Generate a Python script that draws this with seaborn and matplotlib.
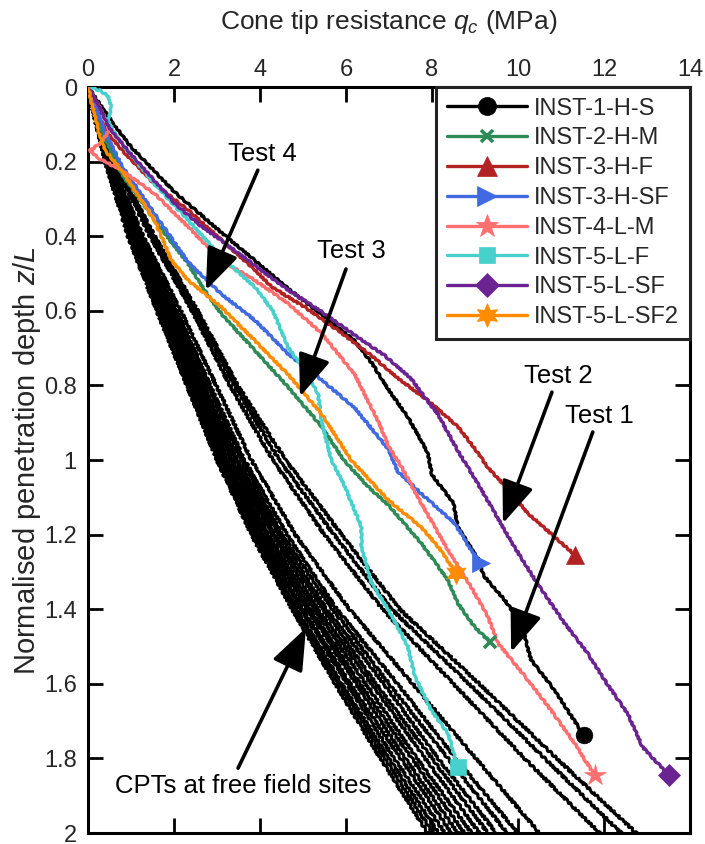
import numpy as np
import pandas as pd
import matplotlib
matplotlib.use("Agg")
import matplotlib.pyplot as plt
from matplotlib.lines import Line2D
from matplotlib.ticker import FormatStrFormatter
import seaborn as sns

sns.set_theme(style="white")
plt.rcParams['font.family'] = ['Liberation Sans', 'DejaVu Sans']
plt.rcParams['mathtext.fontset'] = 'custom'
plt.rcParams['mathtext.rm'] = 'Liberation Sans'
plt.rcParams['mathtext.it'] = 'Liberation Sans:italic'

# ---- free-field CPT profiles (normalised depth grid, qc in MPa) ----
cpt_depth = [0, 0.1, 0.2, 0.4, 0.6, 0.8, 1.0, 1.2, 1.4, 1.6, 1.8, 2.0]
cpt_qc = [
    [0, 0.20, 0.40, 0.93, 1.60, 2.30, 3.00, 3.80, 4.75, 5.75, 6.80, 7.90],
    [0, 0.19, 0.41, 0.95, 1.63, 2.31, 3.05, 3.84, 4.80, 5.84, 6.90, 8.02],
    [0, 0.21, 0.42, 0.96, 1.66, 2.37, 3.08, 3.90, 4.86, 5.90, 7.00, 8.15],
    [0, 0.20, 0.43, 0.99, 1.68, 2.40, 3.14, 3.95, 4.96, 6.03, 7.12, 8.30],
    [0, 0.22, 0.42, 1.00, 1.72, 2.42, 3.16, 4.02, 5.00, 6.10, 7.27, 8.45],
    [0, 0.21, 0.44, 1.02, 1.75, 2.46, 3.22, 4.06, 5.10, 6.24, 7.38, 8.60],
    [0, 0.22, 0.45, 1.05, 1.77, 2.49, 3.25, 4.14, 5.17, 6.33, 7.53, 8.75],
    [0, 0.23, 0.45, 1.07, 1.83, 2.55, 3.33, 4.19, 5.27, 6.46, 7.65, 8.92],
    [0, 0.22, 0.47, 1.09, 1.86, 2.59, 3.37, 4.29, 5.35, 6.60, 7.84, 9.10],
    [0, 0.24, 0.47, 1.12, 1.91, 2.66, 3.45, 4.34, 5.47, 6.70, 8.00, 9.30],
    [0, 0.24, 0.49, 1.15, 1.95, 2.70, 3.49, 4.44, 5.55, 6.88, 8.14, 9.50],
    [0, 0.25, 0.50, 1.19, 2.01, 2.79, 3.58, 4.51, 5.69, 7.00, 8.37, 9.75],
    [0, 0.26, 0.52, 1.22, 2.07, 2.84, 3.64, 4.63, 5.79, 7.20, 8.55, 10.00],
    [0, 0.27, 0.54, 1.28, 2.16, 2.98, 3.80, 4.82, 6.08, 7.55, 9.02, 10.50],
    [0, 0.29, 0.59, 1.44, 2.42, 3.30, 4.30, 5.50, 6.85, 8.50, 10.15, 11.90],
    [0, 0.30, 0.61, 1.50, 2.49, 3.41, 4.45, 5.72, 7.06, 8.86, 10.62, 12.40],
    [0, 0.31, 0.63, 1.55, 2.55, 3.48, 4.60, 5.90, 7.25, 9.10, 10.90, 12.75],
]

# ---- instrumented pile tests ----
inst1_qc = [0, 0.3, 0.6, 1.0, 1.5, 2.0, 2.6, 3.1, 3.88, 4.65, 5.43, 6.2, 6.6, 6.98, 7.44, 7.9, 8.0,
            8.5, 8.6, 9.07, 9.2, 9.69, 10.08, 10.3, 10.85, 11.3, 11.53]
inst1_z = [0, 0.05, 0.1, 0.16, 0.22, 0.28, 0.34, 0.39, 0.465, 0.54, 0.61, 0.68, 0.74, 0.81, 0.885, 0.98,
           1.04, 1.115, 1.18, 1.265, 1.31, 1.375, 1.44, 1.535, 1.617, 1.697, 1.737]

inst2_qc = [0, 0.4, 0.78, 1.55, 2.33, 2.71, 3.1, 3.88, 4.65, 5.43, 5.95, 6.5, 6.98, 7.75, 8.37, 8.6,
            8.99, 9.34]
inst2_z = [0, 0.14, 0.232, 0.357, 0.474, 0.545, 0.608, 0.706, 0.804, 0.91, 1.0, 1.07, 1.12, 1.223, 1.322,
           1.384, 1.447, 1.487]

inst3f_qc = [0, 0.3, 0.5, 0.8, 1.55, 2.33, 3.1, 3.88, 4.26, 5.04, 5.81, 6.59, 7.2, 7.9, 8.6, 9.0, 9.3,
             9.7, 10.23, 10.85, 11.33]
inst3f_z = [0, 0.09, 0.13, 0.17, 0.26, 0.33, 0.41, 0.49, 0.535, 0.59, 0.652, 0.72, 0.78, 0.84, 0.91,
            0.97, 1.02, 1.07, 1.143, 1.206, 1.255]

inst3sf_qc = [0, 0.4, 0.78, 1.55, 2.33, 3.1, 3.88, 4.65, 5.43, 6.2, 6.98, 7.2, 7.75, 8.53, 8.9, 9.14]
inst3sf_z = [0, 0.12, 0.21, 0.34, 0.47, 0.555, 0.625, 0.715, 0.785, 0.86, 0.97, 1.03, 1.09, 1.17, 1.24,
             1.276]

inst4_qc = [0, 0.3, 0.5, 0.3, 0.05, 0.23, 0.78, 1.55, 2.33, 3.1, 3.88, 4.65, 5.43, 6.2, 6.74, 7.0, 7.3,
            7.75, 8.37, 8.91, 9.3, 9.53, 10.23, 10.7, 11.32, 11.78]
inst4_z = [0, 0.06, 0.116, 0.15, 0.17, 0.19, 0.223, 0.286, 0.375, 0.465, 0.518, 0.58, 0.66, 0.77, 0.894,
           0.965, 1.02, 1.116, 1.241, 1.34, 1.42, 1.49, 1.59, 1.66, 1.76, 1.845]

inst5f_qc = [0, 0.3, 0.47, 0.54, 0.47, 0.6, 0.78, 1.55, 2.33, 3.1, 3.88, 4.3, 4.65, 5.04, 5.35, 5.43,
             5.66, 5.97, 6.36, 6.36, 6.59, 6.98, 7.44, 7.6, 7.98, 8.37, 8.6]
inst5f_z = [0, 0.01, 0.025, 0.055, 0.09, 0.12, 0.15, 0.26, 0.357, 0.456, 0.536, 0.6, 0.697, 0.76, 0.822,
            0.894, 1.0, 1.07, 1.18, 1.232, 1.33, 1.4, 1.5, 1.58, 1.67, 1.733, 1.822]

inst5sf_qc = [0, 0.25, 0.45, 0.6, 1.0, 1.5, 2.0, 2.6, 3.2, 3.9, 4.6, 5.4, 6.2, 6.9, 7.5, 8.15, 8.6, 9.05,
              9.55, 9.9, 10.5, 11.1, 11.6, 12.1, 12.55, 12.9, 13.51]
inst5sf_z = [0, 0.05, 0.1, 0.125, 0.18, 0.245, 0.31, 0.37, 0.42, 0.48, 0.54, 0.6, 0.665, 0.72, 0.78, 0.88,
             0.975, 1.06, 1.16, 1.23, 1.34, 1.44, 1.515, 1.605, 1.68, 1.77, 1.845]

inst5sf2_qc = [0, 0.1, 0.25, 0.4, 0.78, 1.55, 1.94, 2.33, 3.1, 3.88, 4.65, 5.43, 6.12, 6.98, 7.75, 8.14,
               8.56]
inst5sf2_z = [0, 0.05, 0.12, 0.17, 0.223, 0.357, 0.465, 0.518, 0.59, 0.68, 0.77, 0.876, 1.0, 1.107, 1.18,
              1.232, 1.303]

test_names = ["INST-1-H-S", "INST-2-H-M", "INST-3-H-F", "INST-3-H-SF",
              "INST-4-L-M", "INST-5-L-F", "INST-5-L-SF", "INST-5-L-SF2"]
test_colors = ["#000000", "#2E8B57", "#B22222", "#4169E1",
               "#FF6F6F", "#48D1CC", "#6A2390", "#FF8C00"]
test_markers = ["o", "x", "^", ">", "*", "s", "D", (6, 1, 0)]
test_msize = [12, 8, 13, 13, 16, 11, 11, 16]
test_qc = [inst1_qc, inst2_qc, inst3f_qc, inst3sf_qc, inst4_qc, inst5f_qc, inst5sf_qc, inst5sf2_qc]
test_z = [inst1_z, inst2_z, inst3f_z, inst3sf_z, inst4_z, inst5f_z, inst5sf_z, inst5sf2_z]

cpt_df = pd.DataFrame(
    [(i, q, z) for i, prof in enumerate(cpt_qc) for q, z in zip(prof, cpt_depth)],
    columns=["cpt", "qc", "z"],
)

fig = plt.figure(figsize=(7.05, 8.44), dpi=100)
ax = fig.add_axes([0.1248, 0.0130, 0.8539, 0.8839])

n_before = len(ax.lines)
sns.lineplot(data=cpt_df, x="qc", y="z", units="cpt", estimator=None, sort=False,
             color="black", lw=2.2, legend=False, ax=ax)
# recorded profiles carry a fine, ragged texture
for ln in ax.lines[n_before:]:
    ln.set_sketch_params(scale=1.1, length=5, randomness=3)

handles = []
for name, c, m, ms, q, z in zip(test_names, test_colors, test_markers, test_msize, test_qc, test_z):
    n_before = len(ax.lines)
    sns.lineplot(x=q, y=z, sort=False, estimator=None, color=c, lw=2.4, ax=ax, legend=False)
    for ln in ax.lines[n_before:]:
        ln.set_sketch_params(scale=0.7, length=7, randomness=3)
        ln.set_zorder(3)
    mew = 2.6 if m == "x" else 0.5
    ax.plot(q[-1], z[-1], ls="none", marker=m, ms=ms, color=c, mec=c, mew=mew, zorder=5,
            clip_on=False)
    handles.append(Line2D([], [], color=c, lw=2.4, marker=m, ms=ms + 1, mec=c, mew=mew))

ax.set_xlim(0, 14)
ax.set_ylim(2, 0)
ax.set_xticks(np.arange(0, 15, 2))
ax.set_yticks(np.arange(0, 2.01, 0.2))
ax.yaxis.set_major_formatter(FormatStrFormatter("%g"))
ax.xaxis.set_label_position("top")
ax.tick_params(axis="both", which="major", direction="in", length=11, width=2,
               top=True, right=True, bottom=True, left=True,
               labeltop=True, labelbottom=False, labelsize=17, color="black")
ax.tick_params(axis="x", pad=4)
ax.tick_params(axis="y", pad=8)
ax.set_xlabel(r"Cone tip resistance $q_c$ (MPa)", fontsize=19, labelpad=22)
ax.set_ylabel(r"Normalised penetration depth $z/L$", fontsize=21, labelpad=1)
for sp in ax.spines.values():
    sp.set_linewidth(2.2)
    sp.set_color("black")
ax.grid(False)

leg = ax.legend(handles, test_names, loc="upper right", bbox_to_anchor=(1, 1),
                borderaxespad=0, fontsize=17, handlelength=3.4, handletextpad=0.3,
                labelspacing=0.33, borderpad=0.45, fancybox=False, framealpha=1)
leg.get_frame().set_edgecolor("#222222")
leg.get_frame().set_linewidth(2.2)
leg.set_zorder(10)

arrow_kw = dict(arrowstyle="-|>,head_length=1.3,head_width=0.5", lw=2.6, color="black",
                shrinkA=0, shrinkB=0, mutation_scale=20)
notes = [
    ("Test 4", (4.05, 0.18), (3.95, 0.223), (2.74, 0.545)),
    ("Test 3", (6.12, 0.44), (6.0, 0.488), (4.93, 0.83)),
    ("Test 2", (10.93, 0.775), (10.79, 0.818), (9.65, 1.17)),
    ("Test 1", (11.9, 0.882), (11.74, 0.925), (9.84, 1.515)),
    ("CPTs at free field sites", (3.6, 1.874), (3.49, 1.826), (5.07, 1.45)),
]
for label, txt_xy, tail, head in notes:
    ax.text(*txt_xy, label, fontsize=18.5, ha="center", va="center", color="black", zorder=6)
    ax.annotate("", xy=head, xytext=tail, arrowprops=arrow_kw, zorder=6)

fig.savefig("out.png", dpi=100)
